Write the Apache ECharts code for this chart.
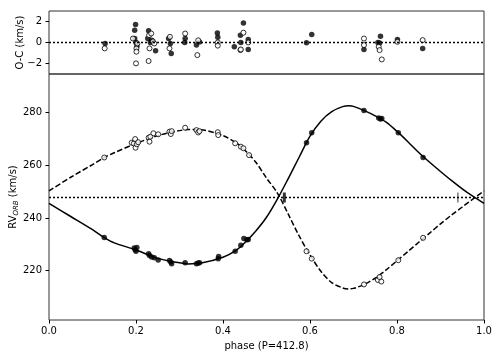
<!DOCTYPE html>
<html>
<head>
<meta charset="utf-8">
<script src="https://cdn.jsdelivr.net/npm/echarts@6/dist/echarts.min.js"></script>
<style>
  html, body { margin: 0; padding: 0; background: #fff; }
  #chart { width: 498px; height: 356px; }
</style>
</head>
<body>
<div id="chart"></div>
<script>
// systemic velocity (dotted line)
const gamma = 247.8;

// model curves
const modelPhase = [0, 0.05, 0.1, 0.127, 0.15, 0.2, 0.25, 0.3, 0.32, 0.35, 0.4, 0.43, 0.45, 0.475, 0.5, 0.525,
  0.55, 0.575, 0.6, 0.625, 0.65, 0.675, 0.69, 0.7, 0.725, 0.75, 0.775, 0.8, 0.825, 0.85, 0.875, 0.9,
  0.925, 0.95, 0.975, 1.0];
const modelPrimary = [245.6, 240.6, 235.6, 232.6, 230.6, 227.9, 224.7, 223.0, 222.6, 222.9, 225.1, 227.7, 230.6, 235.0, 240.3, 247.2,
  255.0, 263.1, 271.1, 276.8, 280.4, 282.3, 282.6, 282.4, 280.8, 278.8, 276.4, 272.9, 269.0, 264.9, 261.2, 257.7,
  254.3, 251.1, 248.2, 245.6];
const modelSecondary = [250.3, 255.5, 260.3, 263.0, 264.8, 268.3, 271.3, 273.2, 273.6, 273.5, 271.3, 268.6, 265.8, 261.3, 255.2, 249.5,
  241.5, 233.2, 226.0, 219.8, 215.5, 213.5, 213.1, 213.3, 214.8, 217.2, 220.3, 223.8, 227.3, 230.8, 234.3, 237.8,
  241.1, 244.2, 247.3, 250.3];

// measured RVs, primary (filled)
const priPhase = [0.127, 0.196, 0.198, 0.200, 0.202, 0.229, 0.231, 0.236, 0.242, 0.251, 0.277, 0.280, 0.282, 0.313, 0.339, 0.343,
  0.346, 0.389, 0.390, 0.428, 0.441, 0.448, 0.455, 0.458, 0.592, 0.604, 0.724, 0.758, 0.762, 0.765, 0.803, 0.860];
const priRV = [232.6, 228.6, 228.0, 227.4, 228.8, 226.5, 225.8, 225.2, 224.9, 224.1, 223.9, 223.3, 222.7, 223.0, 222.7, 222.9,
  223.0, 224.6, 225.4, 227.4, 229.7, 232.2, 231.8, 231.9, 268.6, 272.4, 280.8, 278.0, 277.6, 277.8, 272.4, 263.0];

// measured RVs, secondary (open)
const secPhase = [0.127, 0.190, 0.195, 0.198, 0.199, 0.202, 0.205, 0.229, 0.231, 0.233, 0.240, 0.251, 0.277, 0.280, 0.282, 0.313,
  0.339, 0.343, 0.346, 0.388, 0.389, 0.428, 0.441, 0.447, 0.460, 0.592, 0.604, 0.724, 0.756, 0.760, 0.764, 0.803, 0.860];
const secRV = [263.0, 268.6, 268.3, 270.0, 266.7, 268.0, 268.8, 270.5, 269.0, 270.9, 272.2, 271.8, 272.8, 271.9, 273.0, 274.3,
  273.4, 272.5, 273.0, 272.6, 271.5, 268.4, 267.1, 266.5, 263.9, 227.4, 224.6, 214.8, 216.5, 217.6, 215.9, 224.0, 232.5];

// O-C residuals
const ocPriPhase = [0.129, 0.197, 0.199, 0.197, 0.200, 0.202, 0.229, 0.227, 0.233, 0.236, 0.245, 0.275, 0.279, 0.281, 0.313, 0.312,
  0.339, 0.346, 0.387, 0.388, 0.426, 0.440, 0.447, 0.441, 0.458, 0.458, 0.592, 0.604, 0.724, 0.756, 0.762, 0.760, 0.801, 0.859];
const ocPri = [-0.1, 1.15, 1.7, 0.37, 0.0, -0.35, 1.09, 0.37, 0.0, 0.2, -0.79, 0.37, -0.1, -1.03, 0.37, 0.0,
  -0.25, 0.05, 0.9, 0.5, -0.41, 0.68, 1.84, 0.0, 0.28, -0.66, -0.04, 0.75, -0.66, 0.0, 0.59, -0.05, 0.28, -0.56];
const ocSecPhase = [0.128, 0.193, 0.201, 0.201, 0.200, 0.203, 0.230, 0.235, 0.229, 0.231, 0.239, 0.242, 0.278, 0.277, 0.313,
  0.341, 0.343, 0.388, 0.388, 0.440, 0.447, 0.441, 0.458, 0.724, 0.724, 0.758, 0.760, 0.765, 0.801, 0.859];
const ocSec = [-0.56, 0.37, -0.56, -0.87, -1.97, -0.1, 0.68, 0.84, -1.75, -0.56, 0.1, -0.1, 0.53, -0.56, 0.84,
  -1.19, 0.2, 0.0, -0.3, -0.72, 0.92, -0.66, 0.0, 0.37, -0.25, -0.41, -0.72, -1.6, 0.06, 0.22];

// vertical ticks on the gamma line
const markPhase = [0.541, 0.94];
const markWidth = [3, 1];

const xTicks = [0, 0.2, 0.4, 0.6, 0.8, 1.0];
const ocTicks = [-2, 0, 2];
const rvTicks = [220, 240, 260, 280];

const font = 'DejaVu Sans';
const pair = (xs, ys) => xs.map((x, i) => [x, ys[i]]);
const minus = v => (v < 0 ? '\u2212' + Math.abs(v) : String(v));

const chart = echarts.init(document.getElementById('chart'));

const option = {
  animation: false,
  backgroundColor: '#fff',
  textStyle: { fontFamily: font },
  grid: [
    { left: 49, right: 14, top: 11, height: 63, show: true, borderColor: '#333', borderWidth: 1,
      backgroundColor: 'transparent', outerBoundsMode: 'none', containLabel: false },
    { left: 49, right: 14, top: 74, height: 246, show: true, borderColor: '#333', borderWidth: 1,
      backgroundColor: 'transparent', outerBoundsMode: 'none', containLabel: false }
  ],
  xAxis: [
    {
      gridIndex: 0, type: 'value', min: 0, max: 1,
      axisLine: { show: false }, axisTick: { show: false }, axisLabel: { show: false }, splitLine: { show: false }
    },
    {
      gridIndex: 1, type: 'value', min: 0, max: 1, interval: 0.2,
      name: 'phase (P=412.8)', nameLocation: 'middle', nameGap: 21, nameMoveOverlap: false,
      nameTextStyle: { fontSize: 10, color: '#000', fontFamily: font },
      axisLine: { show: false },
      axisTick: { show: true, inside: false, length: 3.5, customValues: xTicks, lineStyle: { color: '#000', width: 1 } },
      axisLabel: { fontSize: 10, color: '#000', margin: 6, fontFamily: font, customValues: xTicks, formatter: v => v.toFixed(1) },
      splitLine: { show: false }
    }
  ],
  yAxis: [
    {
      gridIndex: 0, type: 'value', min: -2.97, max: 2.96,
      name: 'O-C (km/s)', nameLocation: 'middle', nameGap: 24, nameRotate: 90, nameMoveOverlap: false,
      nameTextStyle: { fontSize: 10, color: '#000', fontFamily: font },
      axisLine: { show: false },
      axisTick: { show: true, inside: false, length: 3.5, customValues: ocTicks, lineStyle: { color: '#000' } },
      axisLabel: { fontSize: 10, color: '#000', margin: 7, fontFamily: font, customValues: ocTicks, formatter: minus },
      splitLine: { show: false }
    },
    {
      gridIndex: 1, type: 'value', min: 201.3, max: 294.7,
      name: '{n|RV}{s|ORB}{n| (km/s)}', nameLocation: 'middle', nameGap: 29, nameRotate: 90, nameMoveOverlap: false,
      nameTextStyle: {
        fontSize: 10, color: '#000', fontFamily: font,
        rich: {
          n: { fontSize: 10, fontFamily: font, color: '#000' },
          s: { fontSize: 7, fontStyle: 'italic', fontFamily: font, color: '#000', padding: [6, 0, 0, 0] }
        }
      },
      axisLine: { show: false },
      axisTick: { show: true, inside: false, length: 3.5, customValues: rvTicks, lineStyle: { color: '#000' } },
      axisLabel: { fontSize: 10, color: '#000', margin: 7, fontFamily: font, customValues: rvTicks },
      splitLine: { show: false }
    }
  ],
  series: [
    {
      type: 'line', xAxisIndex: 0, yAxisIndex: 0, data: [[0, 0], [1, 0]], symbol: 'none', silent: true,
      lineStyle: { color: '#000', width: 1.5, type: [2, 2] }
    },
    {
      type: 'scatter', xAxisIndex: 0, yAxisIndex: 0, data: pair(ocPriPhase, ocPri), symbolSize: 5.5,
      itemStyle: { color: '#000' }
    },
    {
      type: 'scatter', xAxisIndex: 0, yAxisIndex: 0, data: pair(ocSecPhase, ocSec), symbolSize: 5,
      itemStyle: { color: '#fff', borderColor: '#000', borderWidth: 1 }
    },
    {
      type: 'line', xAxisIndex: 1, yAxisIndex: 1, data: [[0, gamma], [1, gamma]], symbol: 'none', silent: true,
      lineStyle: { color: '#000', width: 1.5, type: [2, 2] }
    },
    {
      type: 'line', xAxisIndex: 1, yAxisIndex: 1, data: pair(modelPhase, modelPrimary), symbol: 'none', smooth: 0.3,
      lineStyle: { color: '#000', width: 1.5 }
    },
    {
      type: 'line', xAxisIndex: 1, yAxisIndex: 1, data: pair(modelPhase, modelSecondary), symbol: 'none', smooth: 0.3,
      lineStyle: { color: '#000', width: 1.5, type: [5.5, 2.4] }
    },
    {
      type: 'scatter', xAxisIndex: 1, yAxisIndex: 1, data: pair(priPhase, priRV), symbolSize: 5.5, z: 5,
      itemStyle: { color: '#000' }
    },
    {
      type: 'scatter', xAxisIndex: 1, yAxisIndex: 1, data: pair(secPhase, secRV), symbolSize: 5, z: 5,
      itemStyle: { color: '#fff', borderColor: '#000', borderWidth: 1 }
    },
    {
      type: 'scatter', xAxisIndex: 1, yAxisIndex: 1, symbol: 'rect', z: 6,
      data: markPhase.map((p, i) => ({ value: [p, gamma], symbolSize: [markWidth[i], 10] })),
      itemStyle: { color: '#000' }
    }
  ]
};

chart.setOption(option);
</script>
</body>
</html>
